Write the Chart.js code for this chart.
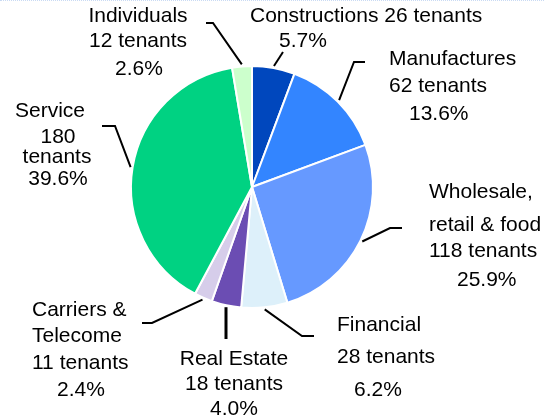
<!DOCTYPE html>
<html>
<head>
<meta charset="utf-8">
<script src="https://cdn.jsdelivr.net/npm/chart.js@4/dist/chart.umd.min.js"></script>
<style>
  html, body { margin: 0; padding: 0; background: #fff; }
  #wrap { width: 544px; height: 418px; position: relative; border-top: 1px dotted #c9daf3; box-sizing: border-box; }
  canvas { position: absolute; left: 0; top: -1px; }
</style>
</head>
<body>
<div id="wrap"><canvas id="myChart" width="544" height="418"></canvas></div>
<script>
// data
const categories = ['Constructions', 'Manufactures', 'Wholesale, retail & food', 'Financial',
  'Real Estate', 'Carriers & Telecome', 'Service', 'Individuals'];
const tenants = [26, 62, 118, 28, 18, 11, 180, 12];
const colors = ['#0047bd', '#3385ff', '#6699ff', '#ddf0fa', '#6b4db3', '#d6cdea', '#00d282', '#ccffcc'];

const total = tenants.reduce((a, b) => a + b, 0);
const pct = tenants.map(v => (v / total * 100).toFixed(1) + '%');

// label layout: each line = [text, x, baseline y, align]; leader = elbow points from slice edge
const layout = [
  { lines: [[categories[0] + ' ' + tenants[0] + ' tenants', 250, 22, 'left'], [pct[0], 279, 47, 'left']],
    leader: [[283, 52]] },
  { lines: [['Manufactures', 389, 65, 'left'], [tenants[1] + ' tenants', 389, 92, 'left'], [pct[1], 409, 120, 'left']],
    leader: [[354, 62], [365, 62]] },
  { lines: [['Wholesale,', 429, 198, 'left'], ['retail & food', 429, 231, 'left'], [tenants[2] + ' tenants', 429, 257, 'left'], [pct[2], 457, 286, 'left']],
    leader: [[390, 228], [402, 228]] },
  { lines: [['Financial', 337, 331, 'left'], [tenants[3] + ' tenants', 337, 363, 'left'], [pct[3], 354, 396, 'left']],
    leader: [[302, 336], [314, 336]] },
  { lines: [['Real Estate', 234, 365, 'center'], [tenants[4] + ' tenants', 234, 390, 'center'], [pct[4], 234, 415, 'center']],
    leader: [[226, 339]], straight: true },
  { lines: [['Carriers &', 32, 316, 'left'], ['Telecome', 32, 342, 'left'], [tenants[5] + ' tenants', 32, 369, 'left'], [pct[5], 57, 396, 'left']],
    leader: [[152, 323], [142, 323]] },
  { lines: [['Service', 50, 117, 'center'], [String(tenants[6]), 58, 143, 'center'], ['tenants', 57, 163, 'center'], [pct[6], 58, 185, 'center']],
    leader: [[115, 126], [102, 126]] },
  { lines: [['Individuals', 138, 22, 'center'], [tenants[7] + ' tenants', 138, 47, 'center'], [pct[7], 139, 75, 'center']],
    leader: [[213, 23], [206, 23]] }
];

const labelPlugin = {
  id: 'sliceLabels',
  afterDraw(chart) {
    const c = chart.ctx;
    const meta = chart.getDatasetMeta(0);
    c.save();
    c.strokeStyle = '#000';
    c.lineWidth = 2;
    c.fillStyle = '#000';
    c.font = '21px "Liberation Sans", Arial, sans-serif';
    c.textBaseline = 'alphabetic';
    meta.data.forEach((arc, i) => {
      const L = layout[i];
      const mid = (arc.startAngle + arc.endAngle) / 2;
      const r = arc.outerRadius + 2;
      let sx = arc.x + Math.cos(mid) * r;
      let sy = arc.y + Math.sin(mid) * r;
      if (L.straight) sx = L.leader[0][0];
      c.beginPath();
      c.moveTo(sx, sy);
      L.leader.forEach(p => c.lineTo(p[0], p[1]));
      c.lineWidth = L.straight ? 3 : 2;
      c.stroke();
      L.lines.forEach(ln => {
        c.textAlign = ln[3];
        c.fillText(ln[0], ln[1], ln[2]);
      });
    });
    c.restore();
  }
};

const ctx = document.getElementById('myChart');
new Chart(ctx, {
  type: 'pie',
  data: {
    labels: categories,
    datasets: [{
      data: tenants,
      backgroundColor: colors,
      borderColor: '#ffffff',
      borderWidth: 2
    }]
  },
  options: {
    responsive: false,
    animation: false,
    layout: {
      padding: { top: 65, bottom: 109, left: 130, right: 170 }
    },
    plugins: {
      legend: { display: false },
      tooltip: { enabled: false }
    }
  },
  plugins: [labelPlugin]
});
</script>
</body>
</html>
